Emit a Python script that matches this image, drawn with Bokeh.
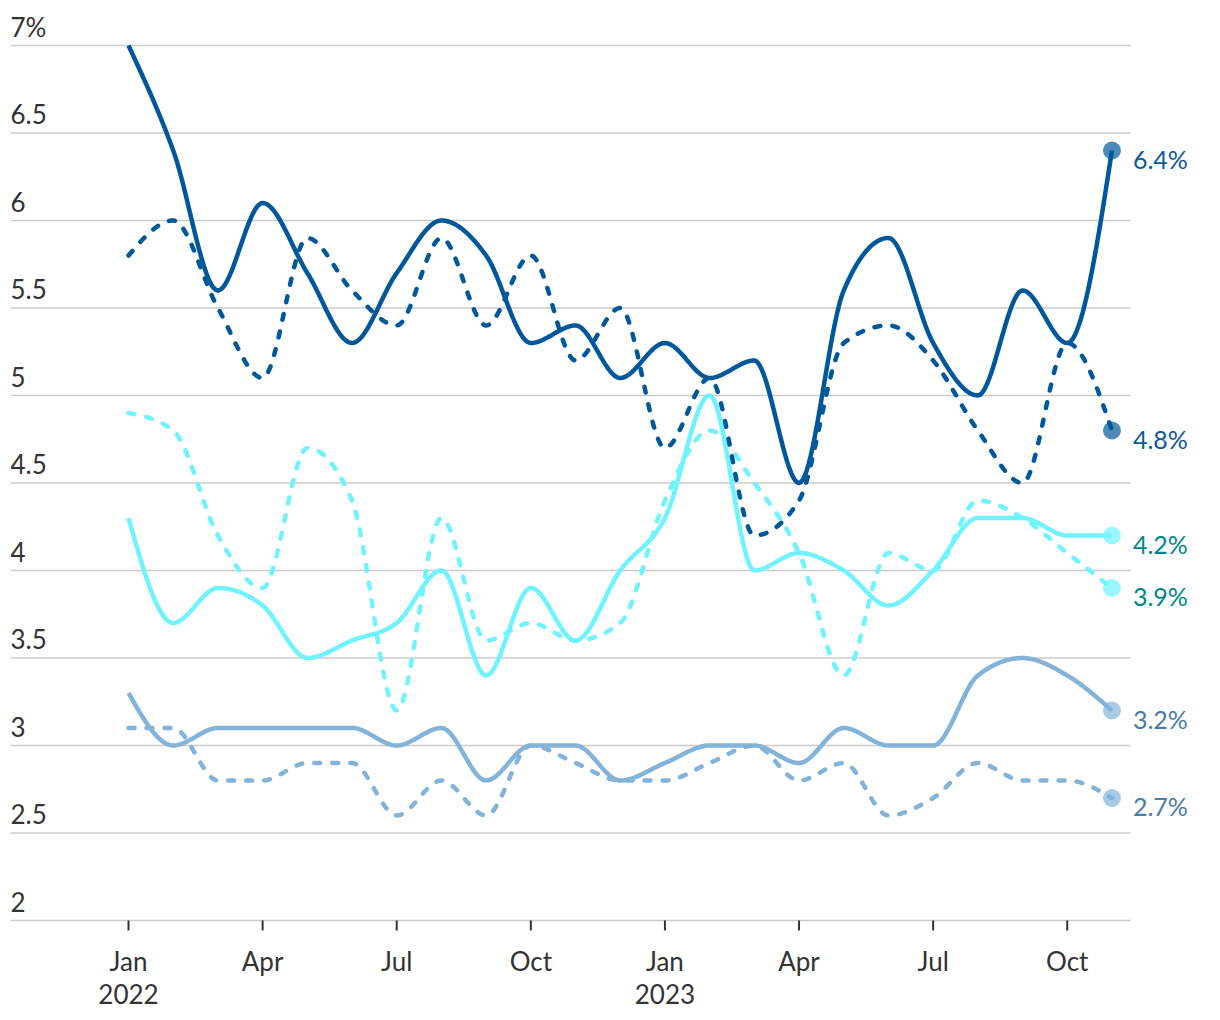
import numpy as np
from bokeh.plotting import figure
from bokeh.models import Range1d
from bokeh.core.properties import value
from bokeh.embed import file_html
from bokeh.resources import INLINE

# ---------------- data ----------------
months = ["2022-01", "2022-02", "2022-03", "2022-04", "2022-05", "2022-06",
          "2022-07", "2022-08", "2022-09", "2022-10", "2022-11", "2022-12",
          "2023-01", "2023-02", "2023-03", "2023-04", "2023-05", "2023-06",
          "2023-07", "2023-08", "2023-09", "2023-10", "2023-11"]

dark_solid = [7.0, 6.4, 5.6, 6.1, 5.7, 5.3, 5.7, 6.0, 5.8, 5.3, 5.4, 5.1,
              5.3, 5.1, 5.2, 4.5, 5.6, 5.9, 5.3, 5.0, 5.6, 5.3, 6.4]
dark_dashed = [5.8, 6.0, 5.5, 5.1, 5.9, 5.6, 5.4, 5.9, 5.4, 5.8, 5.2, 5.5,
               4.7, 5.1, 4.2, 4.4, 5.3, 5.4, 5.2, 4.8, 4.5, 5.3, 4.8]
cyan_solid = [4.3, 3.7, 3.9, 3.8, 3.5, 3.6, 3.7, 4.0, 3.4, 3.9, 3.6, 4.0,
              4.3, 5.0, 4.0, 4.1, 4.0, 3.8, 4.0, 4.3, 4.3, 4.2, 4.2]
cyan_dashed = [4.9, 4.8, 4.2, 3.9, 4.7, 4.4, 3.2, 4.3, 3.6, 3.7, 3.6, 3.7,
               4.4, 4.8, 4.5, 4.1, 3.4, 4.1, 4.0, 4.4, 4.3, 4.1, 3.9]
light_solid = [3.3, 3.0, 3.1, 3.1, 3.1, 3.1, 3.0, 3.1, 2.8, 3.0, 3.0, 2.8,
               2.9, 3.0, 3.0, 2.9, 3.1, 3.0, 3.0, 3.4, 3.5, 3.4, 3.2]
light_dashed = [3.1, 3.1, 2.8, 2.8, 2.9, 2.9, 2.6, 2.8, 2.6, 3.0, 2.9, 2.8,
                2.8, 2.9, 3.0, 2.8, 2.9, 2.6, 2.7, 2.9, 2.8, 2.8, 2.7]

y_ticks = [2, 2.5, 3, 3.5, 4, 4.5, 5, 5.5, 6, 6.5, 7]
y_tick_labels = ["2", "2.5", "3", "3.5", "4", "4.5", "5", "5.5", "6", "6.5", "7%"]
x_ticks = [0, 3, 6, 9, 12, 15, 18, 21]
x_tick_labels = ["Jan", "Apr", "Jul", "Oct", "Jan", "Apr", "Jul", "Oct"]
year_ticks = [0, 12]
year_labels = ["2022", "2023"]

DARK = "#00589A"
CYAN = "#70F3FF"
LIGHT = "#83B3D8"

series = [
    (light_dashed, LIGHT, True, "#4A7DA5"),
    (light_solid, LIGHT, False, "#4A7DA5"),
    (cyan_dashed, CYAN, True, "#00868B"),
    (cyan_solid, CYAN, False, "#00868B"),
    (dark_dashed, DARK, True, "#0B5A95"),
    (dark_solid, DARK, False, "#0B5A95"),
]


def monotone_path(xs, ys, n=24):
    """d3 curveMonotoneX rendering of the given points."""
    x = np.asarray(xs, float)
    y = np.asarray(ys, float)
    h = np.diff(x)
    s = np.diff(y) / h
    m = len(x)
    t = np.zeros(m)
    sgn = lambda v: -1.0 if v < 0 else 1.0
    for i in range(1, m - 1):
        p = (s[i - 1] * h[i] + s[i] * h[i - 1]) / (h[i - 1] + h[i])
        t[i] = (sgn(s[i - 1]) + sgn(s[i])) * min(abs(s[i - 1]), abs(s[i]), 0.5 * abs(p))
    t[0] = (3 * s[0] - t[1]) / 2
    t[-1] = (3 * s[-1] - t[-2]) / 2
    px, py = [], []
    u = np.linspace(0, 1, n)
    for i in range(m - 1):
        x0, x1, y0, y1 = x[i], x[i + 1], y[i], y[i + 1]
        dx = (x1 - x0) / 3
        cx = [x0, x0 + dx, x1 - dx, x1]
        cy = [y0, y0 + dx * t[i], y1 - dx * t[i + 1], y1]
        b = [(1 - u) ** 3, 3 * u * (1 - u) ** 2, 3 * u ** 2 * (1 - u), u ** 3]
        seg_x = sum(bb * c for bb, c in zip(b, cx))
        seg_y = sum(bb * c for bb, c in zip(b, cy))
        if i > 0:
            seg_x, seg_y = seg_x[1:], seg_y[1:]
        px.extend(seg_x)
        py.extend(seg_y)
    return px, py


FONT = "Lato"
xi = list(range(len(months)))
X0, X_END = -2.64, 24.16
Y_TOP = 7.2
PX_PER_UNIT = 175.0
H = 1008
Y_BOTTOM = Y_TOP - (H - 10) / PX_PER_UNIT

p = figure(width=1208, height=H, output_backend="svg", toolbar_location=None,
           x_range=Range1d(X0, X_END), y_range=Range1d(Y_BOTTOM, Y_TOP),
           min_border_left=10, min_border_right=0, min_border_top=10, min_border_bottom=0)
p.outline_line_color = None
p.background_fill_color = "white"
p.border_fill_color = "white"
p.xgrid.visible = False
p.ygrid.visible = False
p.yaxis.visible = False
p.xaxis.visible = False

# horizontal grid lines
p.segment(x0=[X0] * len(y_ticks), x1=[22.42] * len(y_ticks), y0=y_ticks, y1=y_ticks,
          line_color="#cccccc", line_width=1.5)

# y tick labels above the grid lines
p.text(x=[X0] * len(y_ticks), y=y_ticks, text=y_tick_labels,
       text_font=value(FONT), text_font_size="26px", text_color="#333333",
       text_align="left", text_baseline="middle", y_offset=-19)

# x ticks and labels
base = y_ticks[0]
p.segment(x0=x_ticks, x1=x_ticks, y0=[base] * len(x_ticks),
          y1=[base - 10 / PX_PER_UNIT] * len(x_ticks), line_color="#333333", line_width=2)
p.text(x=x_ticks, y=[base] * len(x_ticks), text=x_tick_labels,
       text_font=value(FONT), text_font_size="26px", text_color="#333333",
       text_align="center", text_baseline="middle", y_offset=40)
p.text(x=year_ticks, y=[base] * len(year_ticks), text=year_labels,
       text_font=value(FONT), text_font_size="26px", text_color="#333333",
       text_align="center", text_baseline="middle", y_offset=73)

for vals, col, dashed, lab_col in series:
    lx, ly = monotone_path(xi, vals)
    p.line(lx, ly, line_color=col, line_width=4.5,
           line_dash="6 12" if dashed else "solid",
           line_cap="round" if dashed else "butt", line_join="round")

for vals, col, dashed, lab_col in series:
    p.scatter([xi[-1]], [vals[-1]], size=18, fill_color=col, fill_alpha=0.7, line_color=None)
    p.text([xi[-1]], [vals[-1]], text=[f"{vals[-1]:.1f}%"], text_font=value(FONT),
           text_font_size="25px", text_color=lab_col, text_align="left",
           text_baseline="middle", x_offset=21, y_offset=8)

open("out.html", "w").write(file_html(p, INLINE))
